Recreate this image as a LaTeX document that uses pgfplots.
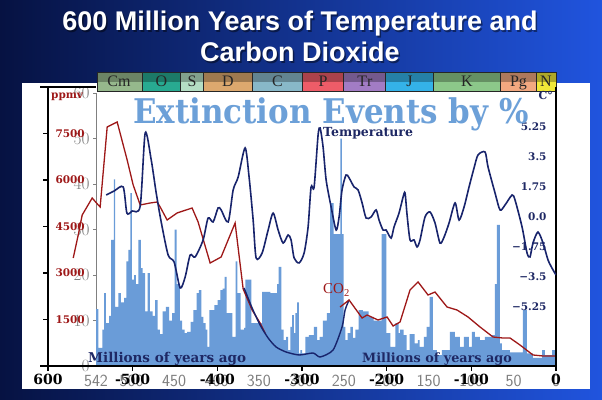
\documentclass[border=0pt]{standalone}
\usepackage{pgfplots}
\usepackage{pgfplotstable}
\pgfplotsset{compat=1.18}
\usepackage{fontspec}
\setmainfont{Liberation Serif}
\newfontfamily\titlefont{Liberation Sans}
\newfontfamily\djs{DejaVu Serif}
\definecolor{bgL}{RGB}{6,18,66}
\definecolor{bgR}{RGB}{32,84,222}
\definecolor{barblue}{RGB}{106,156,216}
\definecolor{navyline}{RGB}{24,36,108}
\definecolor{co2red}{RGB}{158,24,24}
\definecolor{exttxt}{RGB}{108,160,216}
\definecolor{lbl}{RGB}{30,40,100}
\definecolor{cCm}{RGB}{150,184,140}
\definecolor{cO}{RGB}{40,170,145}
\definecolor{cS}{RGB}{180,222,196}
\definecolor{cD}{RGB}{220,168,110}
\definecolor{cC}{RGB}{136,184,200}
\definecolor{cP}{RGB}{238,92,104}
\definecolor{cTr}{RGB}{162,124,196}
\definecolor{cJ}{RGB}{52,178,232}
\definecolor{cK}{RGB}{140,200,138}
\definecolor{cPg}{RGB}{242,168,128}
\definecolor{cN}{RGB}{240,232,56}

% extinction intensity (%), left edge of each interval (Ma, negative)
\pgfplotstableread{
t pct
-542.3 12.5
-539.2 4
-534.5 8
-532.5 16
-530.5 9.4
-526.6 11
-524.2 27.7
-521.0 41
-519.5 13
-515.6 16
-512.8 14
-508.9 15
-506.1 23
-503.8 25.5
-501.4 38
-499.8 19
-497.1 20
-495.0 18
-492.0 27.7
-489.1 21.5
-487.2 20.4
-484.1 12
-481.3 20.4
-478.5 12
-475.4 11
-472.3 14.5
-469.5 8
-466.7 7
-463.6 12
-459.6 13
-455.7 10
-452.2 11.6
-449.5 30
-446.9 18
-443.1 10
-440.4 8
-437.7 7.2
-434.5 7.5
-430.6 9.7
-427.4 12.3
-423.5 16
-420.7 16.7
-417.9 10.8
-415.6 9.4
-412.9 8
-410.9 4.2
-408.5 12.3
-402.6 13.4
-398.7 14.5
-395.5 16.7
-392.8 17
-390.4 19.6
-388.1 11.6
-381.3 6.4
-377.5 23
-375.4 16
-371.5 8
-367.5 8.4
-366.0 19
-358.9 9.4
-346.3 16.3
-336.5 16
-332.6 16
-328.6 18
-326.7 21.8
-323.5 8
-320.8 5.7
-318.0 6.4
-315.6 3.5
-312.9 8.6
-310.9 11.2
-309.0 7.2
-307.0 11.6
-305.0 14
-303.1 2.8
-301.1 3.5
-299.1 2.8
-295.2 6.4
-291.3 6.8
-285.4 8.6
-281.4 5.7
-278.6 6.4
-274.7 10
-270.0 11.6
-266.0 35.8
-262.1 29
-254.2 50
-252.3 29
-250.3 8.6
-248.3 5.7
-245.6 7.2
-242.4 8.6
-239.3 6.2
-236.5 8
-232.6 12.3
-227.5 12
-220.8 10.8
-214.9 10
-205.4 29
-199.9 7.2
-195.2 4.2
-189.3 9.4
-185.4 7.2
-183.6 8
-179.5 6.8
-175.9 3.5
-172.4 7
-166.5 5
-162.9 5.7
-160.6 4.2
-155.8 6.4
-152.3 8.6
-148.8 15.2
-145.2 3.5
-140.5 2.4
-134.6 3.5
-125.1 7.5
-119.2 6.4
-113.3 4.2
-108.6 6.4
-102.7 4.2
-99.2 7.5
-95.6 6.4
-89.7 5.7
-83.8 6.4
-75.6 6.8
-72.0 18
-69.7 31
-66.1 5
-63.8 3.5
-54.3 3
-39.0 12.3
-34.2 2.8
-27.2 1.8
-16.5 3.5
-13.0 2.4
-4.7 3.5
0.0 3.5
}\bars

% temperature anomaly (deg C)
\pgfplotstableread{
t T
-531.3 1.28
-521.8 1.52
-511.2 1.75
-506.8 0.23
-500.6 0.35
-491.1 0.64
-485.2 4.90
-478.1 3.33
-472.2 1.40
-466.3 -0.29
-458.1 -2.22
-451.0 -2.63
-443.9 -4.14
-438.0 -3.50
-432.1 -2.22
-426.2 -2.33
-416.8 -1.34
-410.9 -0.06
-405.0 -0.29
-399.1 0.53
-395.5 0.41
-387.2 -0.29
-381.3 1.58
-375.4 2.33
-367.2 4.03
-362.5 2.33
-357.7 -0.18
-354.2 -2.39
-347.1 -2.10
-340.0 -0.76
-334.1 0.23
-328.2 -0.76
-322.3 -1.52
-316.4 -1.05
-312.9 -1.34
-309.3 -2.39
-303.4 -2.68
-297.5 -2.10
-292.8 -0.58
-289.3 1.75
-285.7 1.75
-281.0 4.78
-278.6 5.19
-275.1 4.08
-271.5 2.16
-265.6 0.58
-259.7 -0.76
-256.2 0.00
-252.7 1.58
-248.0 2.45
-244.4 2.28
-238.5 1.75
-233.8 1.58
-229.0 0.82
-224.3 -0.06
-218.4 0.00
-212.5 0.41
-209.0 -0.18
-204.3 -0.76
-200.7 -0.76
-194.8 -1.23
-191.3 -0.58
-185.4 0.23
-180.6 1.17
-178.3 1.40
-175.9 0.12
-172.4 -1.34
-167.7 -1.34
-164.1 -1.75
-160.6 -1.34
-154.7 0.00
-148.8 0.29
-142.9 -0.35
-137.0 -1.52
-132.2 -1.17
-126.3 -0.35
-119.2 0.82
-114.5 -0.18
-108.6 0.58
-102.7 1.75
-96.8 2.86
-92.1 3.62
-83.8 3.79
-80.3 2.92
-72.0 1.40
-66.1 0.41
-60.2 0.70
-51.9 1.28
-48.4 0.99
-40.1 -0.58
-34.2 -2.10
-30.7 -2.33
-27.2 -1.52
-21.3 -0.88
-15.3 -1.52
-9.4 -2.51
-3.5 -3.09
0.0 -3.38
}\temp

% CO2 (ppmv)
\pgfplotstableread{
t ppm
-570.2 3484
-564.3 4226
-559.6 4871
-547.8 5419
-540.7 5194
-538.4 5129
-530.1 7710
-518.3 7871
-506.5 6645
-499.4 5839
-491.1 5194
-479.3 5258
-471.1 5290
-467.5 5129
-459.3 4710
-447.5 4936
-429.8 5097
-422.7 4645
-408.5 3323
-395.5 3516
-379.0 4613
-369.5 2484
-358.9 1806
-349.5 1387
-343.6 1065
}\coA
\pgfplotstableread{
t ppm
-368.4 2516
-358.9 1871
-349.5 1323
-340.0 903
-330.6 613
-318.8 452
-303.4 355
-286.9 419
-278.6 290
-263.3 516
-252.7 1258
-249.1 1806
-244.4 2129
}\coB
\pgfplotstableread{
t ppm
-255.0 1903
-244.4 2129
-229.0 1548
-223.1 1645
-210.2 1484
-199.5 1581
-192.4 1290
-184.2 1419
-172.4 2452
-162.9 2710
-151.1 2290
-142.9 2387
-128.7 1903
-116.9 1806
-103.9 1581
-89.7 1258
-74.4 935
-62.6 903
-54.3 903
-42.5 677
-27.2 355
-15.3 323
-1.2 323
}\coC

\begin{document}
\begin{tikzpicture}
% background
\shade[left color=bgL, right color=bgR] (0pt,0pt) rectangle (602pt,399pt);
% titles
\foreach \ty/\tx in {368/600 Million Years of Temperature and, 337/Carbon Dioxide}{
  \node[anchor=base, inner sep=0pt, text=black, opacity=0.45, font=\titlefont\bfseries\fontsize{27}{27}\selectfont] at (301.5pt,\ty pt-1.5pt) {\tx};
  \node[anchor=base, inner sep=0pt, text=white, font=\titlefont\bfseries\fontsize{27}{27}\selectfont] at (300pt,\ty pt) {\tx};
}
% white panel
\fill[white] (22pt,10pt) rectangle (590pt,316pt);

% ---- extinction bars ----
\begin{axis}[
  at={(96pt,33pt)}, anchor=south west, scale only axis,
  width=460pt, height=273pt,
  xmin=-542, xmax=0, ymin=0, ymax=60,
  axis x line*=bottom, axis y line*=left,
  x axis line style={draw=none},
  y axis line style={draw=gray, line width=0.9pt},
  xtick={-542,-500,-450,-400,-350,-300,-250,-200,-150,-100,-50,0},
  xticklabels={542,500,450,400,350,300,250,200,150,100,50,0},
  xtick style={draw=none},
  xticklabel style={font=\sffamily\fontsize{17}{17}\selectfont, text=gray, yshift=-3pt},
  ytick={0,10,...,60},
  ytick style={draw=gray, line width=0.9pt},
  tick align=outside, major tick length=3pt,
  yticklabel style={font=\fontsize{16}{16}\selectfont, text=gray},
]
\addplot[const plot, fill=barblue, draw=none] table[x=t,y=pct]{\bars} \closedcycle;
\end{axis}

% ---- CO2 axis (left, red) ----
\begin{axis}[
  at={(48pt,33pt)}, anchor=south west, scale only axis,
  width=508pt, height=273pt,
  xmin=-600, xmax=0, ymin=0, ymax=8806,
  axis x line*=bottom, axis y line*=left,
  axis line style={black, line width=1.6pt},
  tick style={black, line width=1.2pt}, tick align=outside, major tick length=5pt,
  xtick={-600,-500,...,0}, xticklabels={600,-500,-400,-300,-200,-100,0},
  xticklabel style={font=\djs\bfseries\fontsize{14}{14}\selectfont, text=black},
  ytick={1500,3000,4500,6000,7500}, yticklabels={1500,3000,4500,6000,7500},
  yticklabel style={font=\djs\bfseries\fontsize{10.5}{10.5}\selectfont, text=co2red, anchor=west, xshift=9pt},
  clip=false,
]
\addplot[co2red, line width=1.3pt] table[x=t,y=ppm]{\coA};
\addplot[navyline, line width=1.4pt, smooth, tension=0.4] table[x=t,y=ppm]{\coB};
\addplot[co2red, line width=1.3pt] table[x=t,y=ppm]{\coC};
% geological periods
\fill[cCm]  (axis cs:-542,8839) rectangle (axis cs:-488,9452);
\fill[cO]   (axis cs:-488,8839) rectangle (axis cs:-443,9452);
\fill[cS]   (axis cs:-443,8839) rectangle (axis cs:-416,9452);
\fill[cD]   (axis cs:-416,8839) rectangle (axis cs:-359,9452);
\fill[cC]   (axis cs:-359,8839) rectangle (axis cs:-299,9452);
\fill[cP]   (axis cs:-299,8839) rectangle (axis cs:-251,9452);
\fill[cTr]  (axis cs:-251,8839) rectangle (axis cs:-201,9452);
\fill[cJ]   (axis cs:-201,8839) rectangle (axis cs:-145,9452);
\fill[cK]   (axis cs:-145,8839) rectangle (axis cs:-66,9452);
\fill[cPg]  (axis cs:-66,8839) rectangle (axis cs:-23,9452);
\fill[cN]   (axis cs:-23,8839) rectangle (axis cs:0,9452);
\fill[black, opacity=0.28] (axis cs:-542,9150) rectangle (axis cs:0,9452);
\draw[black!85, line width=1pt] (axis cs:-542,8839) rectangle (axis cs:0,9452);
\foreach \b in {-488,-443,-416,-359,-299,-251,-201,-145,-66,-23}{
  \edef\tmp{\noexpand\draw[black!85, line width=1pt] (axis cs:\b,8839) -- (axis cs:\b,9452);}\tmp
}
\end{axis}

% ---- temperature axis (right) ----
\begin{axis}[
  at={(48pt,33pt)}, anchor=south west, scale only axis,
  width=508pt, height=273pt,
  xmin=-600, xmax=0, ymin=-8.69, ymax=7.23,
  axis x line=none, axis y line*=right,
  axis line style={black, line width=1.8pt},
  major tick length=0pt,
  ytick={-5.25,-3.5,-1.75,0,1.75,3.5,5.25},
  yticklabels={−5.25,−3.5,−1.75,0.0,1.75,3.5,5.25},
  yticklabel style={font=\djs\bfseries\fontsize{10.5}{10.5}\selectfont, text=lbl, anchor=east, xshift=-6pt},
]
\addplot[navyline, line width=1.6pt, smooth, tension=0.45] table[x=t,y=T]{\temp};
\end{axis}

% frame extensions
\draw[black, line width=1.6pt] (40pt,312pt) -- (96pt,312pt);
\draw[black, line width=1.6pt] (48pt,312pt) -- (48pt,305pt);
\draw[black, line width=1.8pt] (556pt,312pt) -- (556pt,305pt);
\draw[black, line width=1.6pt] (40pt,33pt) -- (48pt,33pt);

% period labels
\foreach \xx/\nm in {119/Cm, 161.5/O, 192/S, 228/D, 277.5/C, 323/P, 365/Tr, 409.5/J, 467/K, 518.5/Pg, 546/N}{
  \node[inner sep=0pt, anchor=base, font=\fontsize{16}{16}\selectfont, text=black!85] at (\xx pt, 312pt) {$\mathrm{\nm}$};
}

% texts
\node[anchor=base west, inner sep=0pt, text=exttxt, font=\djs\bfseries\fontsize{34}{34}\selectfont] at (133pt,275pt) {\scalebox{0.91}[1]{Extinction Events by \%}};
\node[anchor=base west, inner sep=0pt, text=lbl, font=\djs\bfseries\fontsize{12.5}{12.5}\selectfont] at (323pt,262pt) {Temperature};
\node[anchor=base west, inner sep=0pt, text=co2red, font=\fontsize{15}{15}\selectfont] at (323pt,105pt) {CO\textsubscript{2}};
\node[anchor=base west, inner sep=0pt, text=lbl, font=\djs\bfseries\fontsize{13.5}{13.5}\selectfont] at (88pt,37pt) {Millions of years ago};
\node[anchor=base west, inner sep=0pt, text=lbl, font=\djs\bfseries\fontsize{12.8}{12.8}\selectfont] at (362pt,37pt) {Millions of years ago};
\node[anchor=base east, inner sep=0pt, text=lbl, font=\djs\bfseries\fontsize{11}{11}\selectfont] at (553pt,299pt) {C°};
\node[anchor=base west, inner sep=0pt, text=co2red, font=\djs\bfseries\fontsize{10.5}{10.5}\selectfont] at (51pt,300pt) {ppmv};

\pgfresetboundingbox
\path[use as bounding box] (0pt,0pt) rectangle (602pt,399pt);
\end{tikzpicture}
\end{document}
